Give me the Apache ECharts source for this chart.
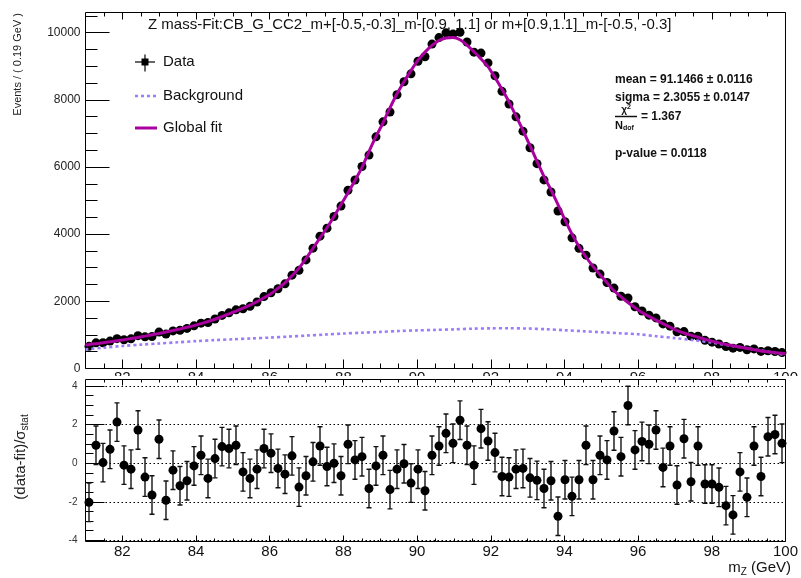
<!DOCTYPE html>
<html>
<head>
<meta charset="utf-8">
<script src="https://cdn.jsdelivr.net/npm/echarts@6/dist/echarts.min.js"></script>
<style>
  html, body { margin: 0; padding: 0; background: #fff; }
  #chart { width: 801px; height: 578px; }
</style>
</head>
<body>
<div id="chart"></div>
<script>
// Binning of the dimuon mass histogram (GeV)
const X_MIN = 81, X_MAX = 100, BIN_WIDTH = 0.19;

// Events per bin
const dataEvents = [
  659, 765, 768, 816, 888, 855, 883, 978, 942, 952,
  1084, 1025, 1119, 1137, 1194, 1271, 1351, 1370, 1475, 1580,
  1657, 1747, 1778, 1850, 1979, 2142, 2254, 2376, 2520, 2779,
  2922, 3233, 3584, 3940, 4179, 4525, 4835, 5306, 5613, 6016,
  6355, 6898, 7345, 7639, 8152, 8537, 8773, 9150, 9281, 9660,
  9853, 9994, 9957, 10011, 9721, 9420, 9392, 9099, 8716, 8252,
  7876, 7493, 7067, 6573, 6100, 5616, 5254, 4688, 4368, 3891,
  3578, 3374, 2993, 2812, 2559, 2395, 2151, 2098, 1839, 1711,
  1589, 1507, 1328, 1261, 1092, 1099, 962, 960, 839, 784,
  729, 655, 605, 628, 559, 583, 508, 529, 507, 473
];

// Global fit evaluated at the bin centres
const fitCurve = [
  713, 740, 767, 796, 827, 858, 892, 926, 964, 1004,
  1044, 1088, 1131, 1177, 1226, 1276, 1336, 1400, 1466, 1546,
  1626, 1709, 1797, 1884, 1993, 2107, 2229, 2389, 2549, 2759,
  2990, 3270, 3580, 3885, 4190, 4525, 4880, 5235, 5600, 5990,
  6460, 6910, 7310, 7760, 8180, 8540, 8870, 9180, 9420, 9620,
  9765, 9840, 9855, 9790, 9630, 9430, 9220, 8990, 8665, 8315,
  7940, 7520, 7090, 6635, 6170, 5715, 5320, 4880, 4425, 4000,
  3630, 3320, 3040, 2790, 2550, 2315, 2135, 1966, 1810, 1665,
  1550, 1442, 1336, 1230, 1130, 1058, 992, 933, 871, 815,
  763, 714, 675, 639, 602, 562, 524, 498, 475, 451
];
// Global fit at the two ends of the fit range
const fitAtEdges = [700, 440];

// Background component
const bkgMass = [
  81, 81.5, 82, 82.5, 83, 83.5, 84, 84.5, 85, 85.5, 86, 86.5, 87, 87.5,
  88, 88.5, 89, 89.5, 90, 90.5, 91, 91.5, 92, 92.5, 93, 93.5, 94, 94.5,
  95, 95.5, 96, 96.5, 97, 97.5, 98, 98.5, 99, 99.5, 100
];
const bkgEvents = [
  570, 620, 670, 710, 745, 780, 815, 845, 870, 895, 920, 950, 980, 1010,
  1040, 1065, 1090, 1115, 1135, 1150, 1165, 1185, 1195, 1198, 1190, 1170, 1140, 1110,
  1080, 1050, 1020, 960, 905, 845, 770, 680, 595, 505, 400
];

// (data - fit) / sigma_stat per bin
const pulls = [
  -2.03, 0.93, 0.03, 0.72, 2.13, -0.10, -0.31, 1.72, -0.72, -1.65,
  1.24, -1.92, -0.36, -1.17, -0.91, -0.14, 0.41, -0.79, 0.24, 0.86,
  0.76, 0.93, -0.45, -0.79, -0.31, 0.76, 0.52, -0.27, -0.57, 0.38,
  -1.24, -0.65, 0.07, 0.89, -0.17, 0.00, -0.65, 0.98, 0.17, 0.34,
  -1.31, -0.14, 0.41, -1.37, -0.31, -0.03, -1.03, -0.31, -1.43, 0.41,
  0.89, 1.55, 1.03, 2.23, 0.93, -0.10, 1.79, 1.15, 0.55, -0.69,
  -0.72, -0.31, -0.27, -0.76, -0.89, -1.31, -0.91, -2.75, -0.86, -1.72,
  -0.86, 0.93, -0.86, 0.41, 0.17, 1.67, 0.34, 2.99, 0.69, 1.13,
  0.98, 1.72, -0.22, 0.89, -1.13, 1.27, -0.96, 0.89, -1.08, -1.08,
  -1.25, -2.20, -2.68, -0.45, -1.77, 0.89, -0.69, 1.37, 1.49, 1.03
];
const PULL_ERROR = 1;

// Axis ticks
const massTicks = [82, 84, 86, 88, 90, 92, 94, 96, 98, 100];
const eventTicks = [0, 2000, 4000, 6000, 8000, 10000];
const pullTicks = [-4, -2, 0, 2, 4];
const EVENTS_MAX = 10600, PULL_MIN = -4.06, PULL_MAX = 4.34;

const FONT = "'Liberation Sans', Arial, Helvetica, sans-serif";
const FIT_COLOR = '#aa00a0';
const BKG_COLOR = '#9c7cfa';

function minorTicks(lo, hi, step, majors) {
  const out = [];
  for (let v = lo; v <= hi + 1e-9; v += step) {
    const r = Math.round(v * 1000) / 1000;
    if (!majors.some(m => Math.abs(m - r) < 1e-6)) out.push(r);
  }
  return out;
}
const massMinor = minorTicks(X_MIN + 0.5, X_MAX, 0.5, massTicks);
const eventMinor = minorTicks(500, 10500, 500, eventTicks);
const pullMinor = minorTicks(-4, 4, 0.5, pullTicks);

const binCenters = dataEvents.map((_, i) => +(X_MIN + BIN_WIDTH * (i + 0.5)).toFixed(3));

const plainNumber = v => String(v);

function xAxisDef(grid, pos, ticks, len, label, z) {
  return {
    type: 'value', gridIndex: grid, position: pos, min: X_MIN, max: X_MAX, z: z,
    axisLine: { show: false, onZero: false },
    axisTick: { show: true, inside: true, length: len, customValues: ticks,
                lineStyle: { color: '#000', width: 1 } },
    axisLabel: label ? Object.assign({ show: true, customValues: massTicks, fontSize: 15,
                fontFamily: FONT, color: '#111', formatter: plainNumber }, label) : { show: false },
    splitLine: { show: false }
  };
}
function yAxisDef(grid, min, max, ticks, len, label, z) {
  return {
    type: 'value', gridIndex: grid, position: 'left', min: min, max: max, z: z,
    axisLine: { show: false, onZero: false },
    axisTick: { show: true, inside: true, length: len, customValues: ticks,
                lineStyle: { color: '#000', width: 1 } },
    axisLabel: label ? Object.assign({ show: true, fontFamily: FONT, formatter: plainNumber }, label)
                     : { show: false },
    splitLine: { show: false }
  };
}

// Data error bars: bin width horizontally, sqrt(N) vertically
function dataErrorItem(params, api) {
  const x = api.value(0), y = api.value(1), e = api.value(2);
  const l = api.coord([x - BIN_WIDTH / 2, y]), r = api.coord([x + BIN_WIDTH / 2, y]);
  const t = api.coord([x, y + e]), b = api.coord([x, y - e]);
  const st = { stroke: '#000', lineWidth: 1 };
  return { type: 'group', children: [
    { type: 'line', shape: { x1: l[0], y1: l[1], x2: r[0], y2: r[1] }, style: st },
    { type: 'line', shape: { x1: t[0], y1: t[1], x2: b[0], y2: b[1] }, style: st }
  ] };
}
// Pull error bars with end caps
function pullErrorItem(params, api) {
  const x = api.value(0), y = api.value(1), e = api.value(2);
  const t = api.coord([x, y + e]), b = api.coord([x, y - e]);
  const c = 2.5;
  const st = { stroke: '#111', lineWidth: 1.4 };
  return { type: 'group', children: [
    { type: 'line', shape: { x1: t[0], y1: t[1], x2: b[0], y2: b[1] }, style: st },
    { type: 'line', shape: { x1: t[0] - c, y1: t[1], x2: t[0] + c, y2: t[1] }, style: st },
    { type: 'line', shape: { x1: b[0] - c, y1: b[1], x2: b[0] + c, y2: b[1] }, style: st }
  ] };
}

const chart = echarts.init(document.getElementById('chart'), null, { renderer: 'canvas' });

const option = {
  animation: false,
  backgroundColor: '#fff',
  grid: [
    { left: 85.5, top: 12.5, width: 707, height: 356, show: true, z: 0,
      borderColor: '#000', borderWidth: 1, backgroundColor: 'transparent' },
    { left: 85.5, top: 379.5, width: 707, height: 162, show: true, z: 2,
      borderColor: '#000', borderWidth: 1, backgroundColor: 'transparent' }
  ],
  xAxis: [
    xAxisDef(0, 'bottom', massTicks, 9, { margin: 2 }, 0),
    xAxisDef(0, 'bottom', massMinor, 5, null, 0),
    xAxisDef(0, 'top', massTicks, 7, null, 0),
    xAxisDef(0, 'top', massMinor, 4, null, 0),
    xAxisDef(1, 'bottom', massTicks, 6, { margin: 3 }, 2),
    xAxisDef(1, 'bottom', massMinor, 3, null, 2),
    xAxisDef(1, 'top', massTicks, 6, null, 2),
    xAxisDef(1, 'top', massMinor, 3, null, 2)
  ],
  yAxis: [
    yAxisDef(0, 0, EVENTS_MAX, eventTicks, 24,
      { customValues: eventTicks, fontSize: 12, color: '#222', margin: 5 }, 0),
    yAxisDef(0, 0, EVENTS_MAX, eventMinor, 12, null, 0),
    yAxisDef(1, PULL_MIN, PULL_MAX, pullTicks, 19,
      { customValues: pullTicks, fontSize: 10, color: '#333', margin: 8 }, 2),
    yAxisDef(1, PULL_MIN, PULL_MAX, pullMinor, 8, null, 2)
  ],
  series: [
    {
      name: 'Data errors', type: 'custom', xAxisIndex: 0, yAxisIndex: 0, z: 2, clip: true,
      renderItem: dataErrorItem,
      encode: { x: 0, y: 1 },
      data: binCenters.map((x, i) => [x, dataEvents[i], Math.sqrt(dataEvents[i])])
    },
    {
      name: 'Data', type: 'scatter', xAxisIndex: 0, yAxisIndex: 0, z: 2,
      symbol: 'circle', symbolSize: 9,
      itemStyle: { color: '#000', opacity: 1 },
      data: binCenters.map((x, i) => [x, dataEvents[i]])
    },
    {
      name: 'Background', type: 'line', xAxisIndex: 0, yAxisIndex: 0, z: 3,
      smooth: 0.3, showSymbol: false,
      lineStyle: { color: BKG_COLOR, width: 2.6, type: [3, 3] },
      data: bkgMass.map((m, i) => [m, bkgEvents[i]])
    },
    {
      name: 'Global fit', type: 'line', xAxisIndex: 0, yAxisIndex: 0, z: 4,
      smooth: 0.2, showSymbol: false,
      lineStyle: { color: FIT_COLOR, width: 3 },
      data: [[X_MIN, fitAtEdges[0]]]
        .concat(binCenters.map((x, i) => [x, fitCurve[i]]))
        .concat([[X_MAX, fitAtEdges[1]]])
    },
    {
      name: 'Pull errors', type: 'custom', xAxisIndex: 4, yAxisIndex: 2, z: 3, clip: true,
      renderItem: pullErrorItem,
      encode: { x: 0, y: 1 },
      data: binCenters.map((x, i) => [x, pulls[i], PULL_ERROR])
    },
    {
      name: 'Pulls', type: 'scatter', xAxisIndex: 4, yAxisIndex: 2, z: 4,
      symbol: 'circle', symbolSize: 9,
      itemStyle: { color: '#000', opacity: 1 },
      data: binCenters.map((x, i) => [x, pulls[i]]),
      markLine: {
        silent: true, symbol: 'none', z: 3,
        label: { show: false },
        lineStyle: { color: '#000', width: 1, type: [1.5, 2.5] },
        emphasis: { disabled: true },
        data: pullTicks.map(v => ({ yAxis: v }))
      }
    }
  ],
  graphic: [
    // white pad background of the ratio pad, sitting over the upper pad's axis labels
    { type: 'rect', z: 1, silent: true,
      shape: { x: 0, y: 376, width: 801, height: 20 }, style: { fill: '#fff' } },
    // title
    { type: 'text', z: 60, x: 148, y: 25,
      style: { text: 'Z mass-Fit:CB_G_CC2_m+[-0.5,-0.3]_m-[0.9, 1.1] or m+[0.9,1.1]_m-[-0.5, -0.3]',
               fontSize: 15, fontFamily: FONT, fill: '#111',
               align: 'left', verticalAlign: 'middle', textAlign: 'left', textVerticalAlign: 'middle' } },
    // axis titles
    { type: 'text', z: 60, x: 18, y: 13, rotation: Math.PI / 2,
      style: { text: 'Events / ( 0.19 GeV )', fontSize: 11, fontFamily: FONT, fill: '#222',
               align: 'right', verticalAlign: 'middle', textAlign: 'right', textVerticalAlign: 'middle' } },
    { type: 'text', z: 60, x: 21, y: 457, rotation: Math.PI / 2,
      style: { text: '{a|(data-fit)/σ}{s|stat}', fontFamily: FONT, fill: '#222',
               align: 'center', verticalAlign: 'middle', textAlign: 'center', textVerticalAlign: 'middle',
               rich: { a: { fontSize: 15, fontFamily: FONT, fill: '#222', color: '#222' },
                       s: { fontSize: 10, fontFamily: FONT, fill: '#222', color: '#222', padding: [8, 0, 0, 0] } } } },
    { type: 'text', z: 60, x: 791, y: 568,
      style: { text: '{a|m}{s|Z}{a| (GeV)}', fontFamily: FONT, fill: '#111',
               align: 'right', verticalAlign: 'middle', textAlign: 'right', textVerticalAlign: 'middle',
               rich: { a: { fontSize: 15, fontFamily: FONT, fill: '#111', color: '#111' },
                       s: { fontSize: 10, fontFamily: FONT, fill: '#111', color: '#111', padding: [8, 0, 0, 0] } } } },
    // legend: Data
    { type: 'line', z: 60, shape: { x1: 135, y1: 62, x2: 155, y2: 62 }, style: { stroke: '#000', lineWidth: 1.2 } },
    { type: 'line', z: 60, shape: { x1: 145, y1: 54.5, x2: 145, y2: 71.5 }, style: { stroke: '#000', lineWidth: 1.2 } },
    { type: 'rect', z: 61, shape: { x: 141.5, y: 58.5, width: 7, height: 7 }, style: { fill: '#000' } },
    { type: 'text', z: 60, x: 163, y: 62,
      style: { text: 'Data', fontSize: 15, fontFamily: FONT, fill: '#111',
               align: 'left', verticalAlign: 'middle', textAlign: 'left', textVerticalAlign: 'middle' } },
    // legend: Background
    { type: 'line', z: 60, shape: { x1: 135, y1: 96, x2: 157, y2: 96 },
      style: { stroke: BKG_COLOR, lineWidth: 2.6, lineDash: [3, 3] } },
    { type: 'text', z: 60, x: 163, y: 96,
      style: { text: 'Background', fontSize: 15, fontFamily: FONT, fill: '#111',
               align: 'left', verticalAlign: 'middle', textAlign: 'left', textVerticalAlign: 'middle' } },
    // legend: Global fit
    { type: 'line', z: 60, shape: { x1: 135, y1: 128, x2: 157, y2: 128 },
      style: { stroke: FIT_COLOR, lineWidth: 3 } },
    { type: 'text', z: 60, x: 163, y: 128,
      style: { text: 'Global fit', fontSize: 15, fontFamily: FONT, fill: '#111',
               align: 'left', verticalAlign: 'middle', textAlign: 'left', textVerticalAlign: 'middle' } },
    // fit summary
    { type: 'text', z: 60, x: 615, y: 80,
      style: { text: 'mean = 91.1466 ± 0.0116', fontSize: 12, fontWeight: 'bold', fontFamily: FONT, fill: '#111',
               align: 'left', verticalAlign: 'middle', textAlign: 'left', textVerticalAlign: 'middle' } },
    { type: 'text', z: 60, x: 615, y: 98,
      style: { text: 'sigma = 2.3055 ± 0.0147', fontSize: 12, fontWeight: 'bold', fontFamily: FONT, fill: '#111',
               align: 'left', verticalAlign: 'middle', textAlign: 'left', textVerticalAlign: 'middle' } },
    { type: 'text', z: 60, x: 626, y: 110,
      style: { text: '{c|χ}{p|2}', fontFamily: FONT, fill: '#111',
               align: 'center', verticalAlign: 'middle', textAlign: 'center', textVerticalAlign: 'middle',
               rich: { c: { fontSize: 10, fontWeight: 'bold', fontFamily: FONT, color: '#111' },
                       p: { fontSize: 7, fontWeight: 'bold', fontFamily: FONT, color: '#111', padding: [0, 0, 6, 0] } } } },
    { type: 'line', z: 60, shape: { x1: 615, y1: 116.5, x2: 637, y2: 116.5 }, style: { stroke: '#111', lineWidth: 1.5 } },
    { type: 'text', z: 60, x: 615, y: 126,
      style: { text: '{n|N}{d|dof}', fontFamily: FONT, fill: '#111',
               align: 'left', verticalAlign: 'middle', textAlign: 'left', textVerticalAlign: 'middle',
               rich: { n: { fontSize: 11, fontWeight: 'bold', fontFamily: FONT, color: '#111' },
                       d: { fontSize: 7, fontWeight: 'bold', fontFamily: FONT, color: '#111', padding: [5, 0, 0, 0] } } } },
    { type: 'text', z: 60, x: 641, y: 117,
      style: { text: '= 1.367', fontSize: 12, fontWeight: 'bold', fontFamily: FONT, fill: '#111',
               align: 'left', verticalAlign: 'middle', textAlign: 'left', textVerticalAlign: 'middle' } },
    { type: 'text', z: 60, x: 615, y: 154,
      style: { text: 'p-value = 0.0118', fontSize: 12, fontWeight: 'bold', fontFamily: FONT, fill: '#111',
               align: 'left', verticalAlign: 'middle', textAlign: 'left', textVerticalAlign: 'middle' } }
  ]
};

chart.setOption(option);
</script>
</body>
</html>
